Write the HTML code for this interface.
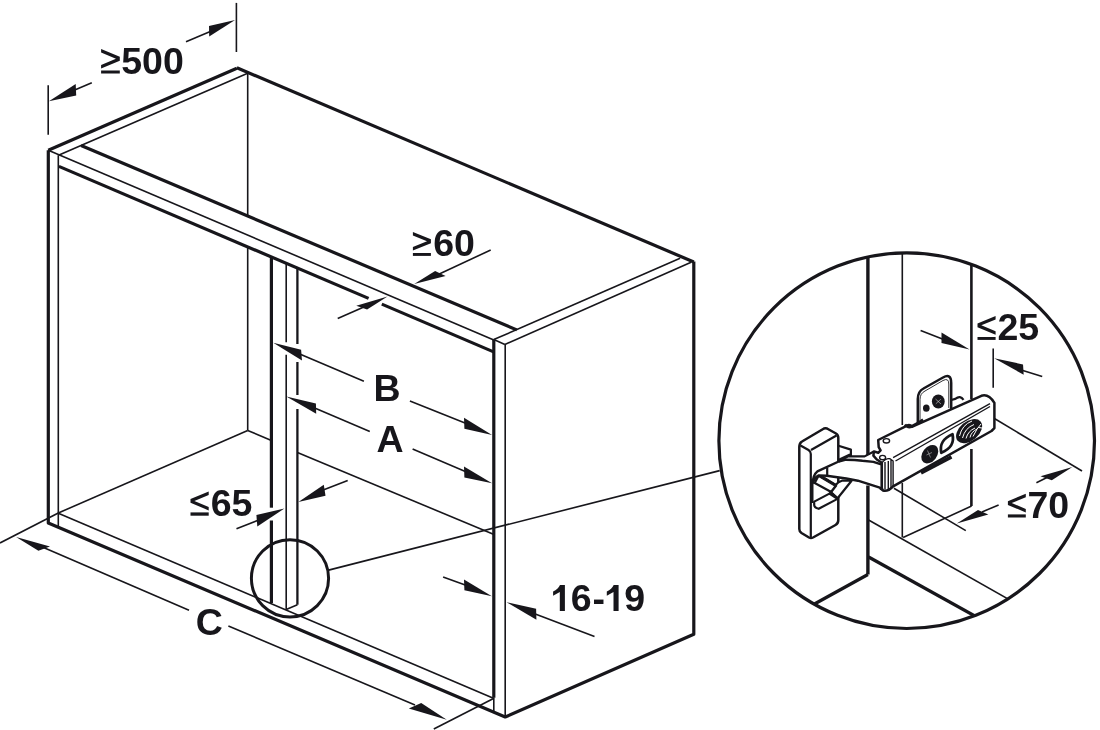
<!DOCTYPE html>
<html><head><meta charset="utf-8"><style>
html,body{margin:0;padding:0;background:#fff;}
svg{display:block;}
</style></head><body>
<svg width="1100" height="730" viewBox="0 0 1100 730">
<defs><clipPath id="bigc"><circle cx="906.7" cy="440.7" r="187.8"/></clipPath></defs>
<rect width="1100" height="730" fill="#fff"/>
<g stroke="#17161b" stroke-linecap="butt" stroke-linejoin="round" fill="none">
<line x1="48.3" y1="150.3" x2="236.9" y2="68.2" stroke-width="3.2"/>
<line x1="236.9" y1="67.8" x2="693.8" y2="262" stroke-width="3.2"/>
<polyline points="48.3,150.3 48.3,523 505.2,717 693.8,634.3 693.8,261.6" stroke-width="3.2" fill="none"/>
<line x1="58.3" y1="155.2" x2="58.3" y2="526.4" stroke-width="1.6"/>
<line x1="48.3" y1="150.3" x2="493.8" y2="339.9" stroke-width="1.6"/>
<line x1="58.5" y1="155.2" x2="247.7" y2="73.3" stroke-width="1.6"/>
<line x1="247.7" y1="73.3" x2="247.7" y2="215.8" stroke-width="1.6"/>
<line x1="247.7" y1="247" x2="247.7" y2="430.4" stroke-width="1.6"/>
<line x1="58.3" y1="513" x2="247.7" y2="430.4" stroke-width="1.6"/>
<line x1="247.7" y1="430.4" x2="271.4" y2="440.5" stroke-width="1.6"/>
<line x1="297.4" y1="452.5" x2="494" y2="534.5" stroke-width="1.6"/>
<line x1="58.3" y1="513.3" x2="494" y2="698.4" stroke-width="1.6"/>
<line x1="81.1" y1="145.5" x2="516.8" y2="329.9" stroke-width="3.2"/>
<line x1="58.9" y1="166.4" x2="368.6" y2="298.4" stroke-width="3.2"/>
<line x1="381.8" y1="304.1" x2="493.6" y2="351.9" stroke-width="3.2"/>
<line x1="493.8" y1="339.6" x2="680.1" y2="258.2" stroke-width="1.6"/>
<line x1="504.9" y1="344.5" x2="691.1" y2="262.3" stroke-width="1.6"/>
<line x1="493.8" y1="339.6" x2="504.9" y2="344.5" stroke-width="1.6"/>
<line x1="493.8" y1="339.6" x2="493.8" y2="697.7" stroke-width="3.2"/>
<line x1="493.8" y1="697.7" x2="493.8" y2="711.4" stroke-width="1.6"/>
<line x1="505.2" y1="344.5" x2="505.2" y2="717" stroke-width="1.6"/>
<line x1="271.4" y1="257.1" x2="271.4" y2="507.7" stroke-width="3.2"/>
<line x1="271.4" y1="520.5" x2="271.4" y2="603" stroke-width="3.2"/>
<line x1="286.2" y1="263.3" x2="286.2" y2="342.3" stroke-width="1.6"/>
<line x1="286.2" y1="354.7" x2="286.2" y2="609.6" stroke-width="1.6"/>
<line x1="297.4" y1="268" x2="297.4" y2="344" stroke-width="2.3"/>
<line x1="297.4" y1="362" x2="297.4" y2="395" stroke-width="2.3"/>
<line x1="297.4" y1="409" x2="297.4" y2="604.7" stroke-width="2.3"/>
<line x1="286.2" y1="609.6" x2="297.4" y2="604.7" stroke-width="1.6"/>
<line x1="48.2" y1="85.2" x2="48.2" y2="134.8" stroke-width="1.6"/>
<line x1="236.4" y1="2.9" x2="236.4" y2="52" stroke-width="1.6"/>
<polygon points="48.9,101.2 75.7,84 76.2,95.5" fill="#17161b" stroke="none"/>
<line x1="70" y1="92" x2="91.8" y2="82.7" stroke-width="1.6"/>
<polygon points="235.1,20.1 209,25.9 209.2,36.6" fill="#17161b" stroke="none"/>
<line x1="186" y1="41.7" x2="215" y2="29.5" stroke-width="1.6"/>
<polygon points="414.2,284 435.1,270.9 445.6,275.9" fill="#17161b" stroke="none"/>
<line x1="435" y1="276" x2="490.7" y2="250" stroke-width="1.6"/>
<polygon points="387.5,296.4 356.3,305.7 367.1,309.6" fill="#17161b" stroke="none"/>
<line x1="337.7" y1="318.5" x2="365" y2="306.5" stroke-width="1.6"/>
<polygon points="273.2,342.8 301.1,349.7 302,360.4" fill="#17161b" stroke="none"/>
<line x1="295" y1="352" x2="363.9" y2="381.3" stroke-width="1.6"/>
<polygon points="492.1,434.9 464,417.8 464.4,428.8" fill="#17161b" stroke="none"/>
<line x1="409.9" y1="401" x2="470" y2="425" stroke-width="1.6"/>
<polygon points="286.3,396.6 315.9,403.6 316.2,413.8" fill="#17161b" stroke="none"/>
<line x1="310" y1="406" x2="369.8" y2="431.6" stroke-width="1.6"/>
<polygon points="492.1,483.3 464,466.4 464.4,477.4" fill="#17161b" stroke="none"/>
<line x1="412.6" y1="449" x2="470" y2="473.5" stroke-width="1.6"/>
<polygon points="298.4,501.9 323.8,484.7 325.5,495.8" fill="#17161b" stroke="none"/>
<line x1="318" y1="492" x2="347.7" y2="480.5" stroke-width="1.6"/>
<polygon points="284.4,508.5 256.4,515 257.3,526.6" fill="#17161b" stroke="none"/>
<line x1="236.5" y1="528.8" x2="264" y2="518" stroke-width="1.6"/>
<line x1="0" y1="543" x2="58.3" y2="513" stroke-width="1.6"/>
<polygon points="16.1,537.1 38.4,550.8 50,546.4" fill="#17161b" stroke="none"/>
<line x1="40" y1="546" x2="189" y2="610.3" stroke-width="1.6"/>
<line x1="228.4" y1="626" x2="415" y2="705" stroke-width="1.6"/>
<polygon points="446.8,719.7 408.8,708.4 421.2,702.9" fill="#17161b" stroke="none"/>
<line x1="433.8" y1="729" x2="493" y2="698.8" stroke-width="1.6"/>
<polygon points="491.9,596.3 464,579.6 464.4,590.3" fill="#17161b" stroke="none"/>
<line x1="443.1" y1="576.9" x2="468" y2="586" stroke-width="1.6"/>
<polygon points="506.6,602.2 536.1,608.8 536.4,619.7" fill="#17161b" stroke="none"/>
<line x1="530" y1="612" x2="594.5" y2="636.6" stroke-width="1.6"/>
<circle cx="290" cy="578.3" r="38.6" stroke-width="3.0" fill="none"/>
<line x1="328.6" y1="570.1" x2="719.7" y2="470.6" stroke-width="1.6"/>
<circle cx="906.7" cy="440.7" r="187.8" stroke-width="3.2" fill="none"/>
<g clip-path="url(#bigc)">
<line x1="867.9" y1="240" x2="867.9" y2="455" stroke-width="3.4"/>
<line x1="867.9" y1="485.5" x2="867.9" y2="574.5" stroke-width="3.4"/>
<line x1="902.3" y1="240" x2="902.3" y2="425" stroke-width="1.6"/>
<line x1="902.3" y1="483" x2="902.3" y2="537.5" stroke-width="1.6"/>
<line x1="971.4" y1="240" x2="971.4" y2="399" stroke-width="2.6"/>
<line x1="971.4" y1="449" x2="971.4" y2="506" stroke-width="2.6"/>
<line x1="903.1" y1="537.5" x2="971.6" y2="506" stroke-width="1.6"/>
<line x1="867.9" y1="574.5" x2="780" y2="623" stroke-width="3.2"/>
<line x1="868.6" y1="520" x2="1060" y2="628.5" stroke-width="1.6"/>
<line x1="868.6" y1="557" x2="1000" y2="630" stroke-width="3.2"/>
</g>
<line x1="993.2" y1="348.6" x2="993.2" y2="387.7" stroke-width="1.6"/>
<line x1="994.4" y1="418.5" x2="1082" y2="471" stroke-width="1.6"/>
<line x1="893.9" y1="488.2" x2="965.8" y2="530.6" stroke-width="1.6"/>
<polygon points="969.6,349.6 941.5,332.5 941.5,343.1" fill="#17161b" stroke="none"/>
<line x1="920.6" y1="330.4" x2="945" y2="340" stroke-width="1.6"/>
<polygon points="994.2,358.2 1023,364.4 1023.7,374.7" fill="#17161b" stroke="none"/>
<line x1="1018" y1="369" x2="1042.2" y2="376.4" stroke-width="1.6"/>
<polygon points="1072.4,466.9 1040.5,476.2 1051.8,480.3" fill="#17161b" stroke="none"/>
<line x1="1036.4" y1="482.7" x2="1048" y2="477" stroke-width="1.6"/>
<polygon points="956.8,523.4 978,510.1 988.3,514.5" fill="#17161b" stroke="none"/>
<line x1="982" y1="512" x2="998.6" y2="504.9" stroke-width="1.6"/>
<path d="M799.3,447 Q799.3,443 802,441.5 L824,428.5 Q825.5,427.8 827,428.5 L836,433.5 Q838.3,435 838.3,438 L838.3,520 Q838.3,523.5 835.5,525 L813,537.5 Q811,538.5 809,537.5 L801.5,533 Q799.3,531.5 799.3,529 Z" fill="#fff" stroke-width="2.5"/>
<path d="M800.5,445.5 L808.5,450 Q810.8,451.5 810.8,454 L810.8,537 M811,450 L836.5,435.5" stroke-width="2.2"/>
<path d="M837.7,445.5 L850.9,449.6 L850.9,455.9 M838.3,460 L850,454.5" stroke-width="2.2"/>
<path d="M818.7,475.4 L835.6,485 Q838,481.8 841.9,480.7 L851.6,480.7 L837.4,498.5 L829.4,491 L814.7,483 Z" fill="#fff" stroke-width="2.2"/>
<path d="M819.1,474 L835.6,484.3 M818.7,476.6 L835.2,486.2" stroke-width="1.1"/>
<path d="M829.4,491 L837.4,498.1 M831.5,491.5 L836.5,485" stroke-width="2.4"/>
<path d="M814.2,501.6 L829.4,493.6 L837,498.5 L835.6,499.9 L818.7,508.8 Q814.2,507.5 814.2,505 Z" fill="#fff" stroke-width="2.2"/>
<path d="M812.8,483 Q813,475 817.4,471.4 L838.7,461.5 L846,459.7 Q855,459.8 862.4,460.8 L873.4,461.9 L882,464.7 L882,489.5 Q880.5,489 879.8,487.7 L857.9,480.7 L846.3,478.5 L826.7,475.8 L818.7,475.4 Q815,477 812.8,483 Z" fill="#fff" stroke-width="2.4000000000000004"/>
<path d="M812,479 L812,503" stroke-width="3"/>
<path d="M827.2,467.8 L827.2,475.8 M838.7,461.5 L848.2,456.4 L864.6,456.4 L873.4,451.8" stroke-width="2.2"/>
<path d="M917.8,424 L917.8,399 Q917.8,391.5 923.5,388.5 L943,377.5 Q951.2,373 951.2,383 L951.2,409" fill="#fff" stroke-width="2.5"/>
<path d="M920,422 L920,399.5 Q920,393.5 925,391 L943,380.5 Q948.8,377.5 948.8,384 L948.8,408" stroke-width="0.9"/>
<ellipse cx="938.3" cy="401.5" rx="6.4" ry="7" fill="#17161b" stroke="none"/>
<path d="M935.5,399 L941,404 M935.8,403.8 L940.8,399.2" stroke="#fff" stroke-width="0.6" opacity="0.8"/>
<ellipse cx="926.3" cy="408.2" rx="3.3" ry="3.6" fill="#17161b" stroke="none"/>
<path d="M951.2,400 L955.3,398.9 Q960.4,395 963.5,399.9" stroke-width="2.2"/>
<path d="M878.2,440 L908.1,425.2 Q910,424.6 912.4,426.7 L981.4,395.8 Q988.6,393.5 994.4,402.9 L994.4,428.1 L991.5,431 L893.1,486.3 Q888,491.8 883,490.5 L881.8,488.5 L881.8,462.8 L876.8,459.5 L873.4,455.7 L873.9,451.4 L878.2,452.8 L880.6,450.4 L878.7,447.1 Z" fill="#fff" stroke-width="2.5"/>
<path d="M905,424.5 Q907,427.5 910.5,427 L918,423 L923,419.5" stroke-width="2.6"/>
<path d="M893.1,457.6 L990,403.7 M895.5,461 L990,406.5 M881.8,463 Q886,457.8 890,458.8 L893.1,461 L893.1,486 M885,462 L885,489.5 M888.3,461 L888.3,490 M891,460 L891,488" stroke-width="1.4"/>
<ellipse cx="886.4" cy="440.8" rx="3.2" ry="2.2" fill="#fff" stroke-width="1.4"/>
<ellipse cx="882.6" cy="457.6" rx="3" ry="2.2" fill="#fff" stroke-width="1.4"/>
<ellipse cx="929.8" cy="454.2" rx="7.2" ry="10.3" transform="rotate(38 929.8 454.2)" fill="#17161b" stroke="none"/>
<path d="M927.5,450.5 L930.5,457.5 M926.5,455 L932,452.5" stroke="#fff" stroke-width="0.6" opacity="0.7"/>
<ellipse cx="969.1" cy="431.2" rx="15" ry="9.6" transform="rotate(-40 969.1 431.2)" fill="#17161b" stroke="none"/>
<path d="M959.5,436 Q962,425 972,421 M962.5,438 Q965,428 974,424.5 M966,438.5 Q968,431 975,428 M970,437.5 Q971,432 977,429 M973,436.5 Q977,428 981,424 M976,430 Q978,426 982,428" stroke="#fff" stroke-width="1.0" fill="none"/>
<path d="M941.3,452.8 C939.5,444 943,438.5 952.5,434.3 C954.5,443 951,448.5 941.3,452.8 Z" fill="#fff" stroke-width="2.8"/>
<path d="M921,472.8 L951.5,456.8" stroke-width="3.6"/>
<path d="M553.1,591.4 C556.6,589.9 558.6,587.8 560.0,584.9 L564.9,584.9 L564.9,611 L559.8,611 L559.8,592.1 L553.1,595.8 Z" fill="#17161b" stroke="none"/>
<path d="M606.8000000000001,591.4 C610.3000000000001,589.9 612.3000000000001,587.8 613.7,584.9 L618.6,584.9 L618.6,611 L613.5,611 L613.5,592.1 L606.8000000000001,595.8 Z" fill="#17161b" stroke="none"/>
<polygon points="101.10,49.10 119.80,56.85 119.80,60.65 101.10,68.40 101.10,64.90 115.94,58.75 101.10,52.60" fill="#17161b" stroke="none"/>
<rect x="101.1" y="70.5" width="18.70" height="3.00" fill="#17161b" stroke="none"/>
<polygon points="412.90,231.90 430.90,239.35 430.90,243.15 412.90,250.60 412.90,247.10 427.03,241.25 412.90,235.40" fill="#17161b" stroke="none"/>
<rect x="412.9" y="253" width="18.00" height="2.90" fill="#17161b" stroke="none"/>
<polygon points="208.70,491.50 190.50,499.05 190.50,502.85 208.70,510.40 208.70,506.90 194.36,500.95 208.70,495.00" fill="#17161b" stroke="none"/>
<rect x="190.5" y="512.4" width="18.20" height="3.30" fill="#17161b" stroke="none"/>
<polygon points="995.60,315.90 977.50,323.45 977.50,327.25 995.60,334.80 995.60,331.30 981.34,325.35 995.60,319.40" fill="#17161b" stroke="none"/>
<rect x="977.5" y="337" width="18.10" height="2.90" fill="#17161b" stroke="none"/>
<polygon points="1025.80,493.70 1007.90,501.15 1007.90,504.95 1025.80,512.40 1025.80,508.90 1011.74,503.05 1025.80,497.20" fill="#17161b" stroke="none"/>
<rect x="1007.9" y="514.4" width="17.90" height="3.10" fill="#17161b" stroke="none"/>
</g>
<g font-family="Liberation Sans, sans-serif" font-weight="bold" font-size="37.5" fill="#17161b" style="will-change:transform">
<text x="121.25" y="73.7">500</text>
<text x="433.25" y="256.4">60</text>
<text x="373.45" y="400.7">B</text>
<text x="376.5" y="451.9">A</text>
<text x="210.65" y="516.2">65</text>
<text x="195.75" y="635">C</text>
<text x="570.8" y="611">6</text>
<text x="592.45" y="611">-</text>
<text x="624.2" y="611">9</text>
<text x="997.4" y="340.1">25</text>
<text x="1027.4" y="518.1">70</text>
</g>
</svg>
</body></html>
